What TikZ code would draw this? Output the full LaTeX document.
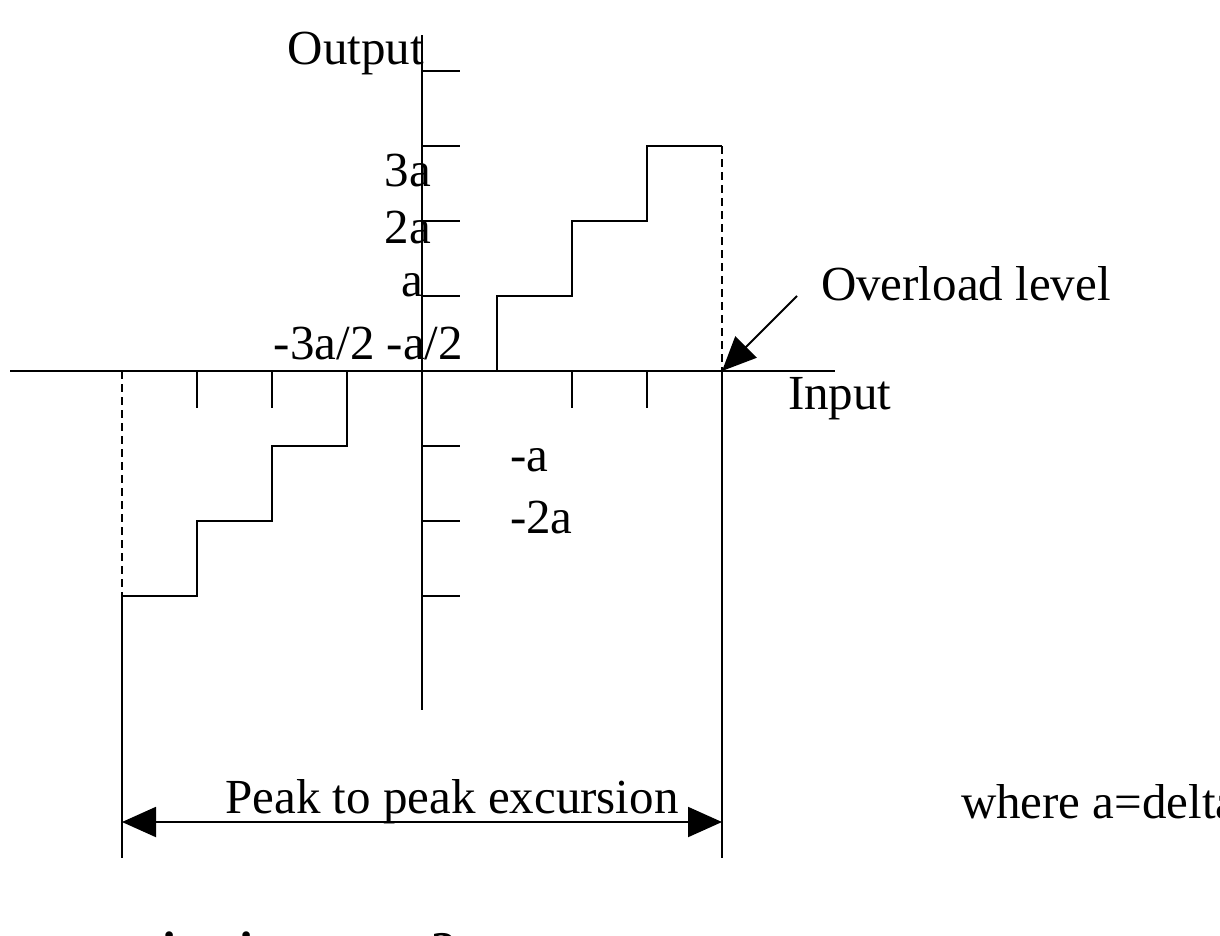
\documentclass[tikz,border=0pt]{standalone}
\usepackage{fontspec}
\setmainfont{Liberation Serif}
\usetikzlibrary{arrows.meta}
\begin{document}
\begin{tikzpicture}[x=1pt,y=-1pt,line width=2pt,
  lbl/.style={inner sep=0pt,font=\fontsize{49}{58}\selectfont},
  dsh/.style={dash pattern=on 8pt off 5pt},
  big/.style={-{Triangle[length=34pt,width=30pt]}}]
\clip (0,0) rectangle (1220,935);
\useasboundingbox (0,0) rectangle (1220,935);
% axes
\coordinate (xl) at (10,371); \coordinate (xr) at (835,371);
\coordinate (yt) at (422,35); \coordinate (yb) at (422,710);
\draw (xl) -- (xr); \draw (yt) -- (yb);
\foreach \y in {71,146,221,296,446,521,596} \draw (422,\y) -- (460,\y);
\foreach \x in {197,272,572,647} \draw (\x,371) -- (\x,408);
% staircase
\draw (497,371) -- (497,296) -- (572,296) -- (572,221) -- (647,221) -- (647,146) -- (722,146);
\draw[dsh] (722,146) -- (722,371);
\draw (722,371) -- (722,858);
\draw (347,371) -- (347,446) -- (272,446) -- (272,521) -- (197,521) -- (197,596) -- (122,596);
\draw[dsh] (122,371) -- (122,596);
\draw (122,596) -- (122,858);
\coordinate (pl) at (122,822); \coordinate (pr) at (722,822);
\draw[{Triangle[length=34pt,width=30pt]}-{Triangle[length=34pt,width=30pt]}] (pl) -- (pr);
\coordinate (ov) at (797,296); \coordinate (ovt) at (722,371);
\draw[big] (ov) -- (ovt);
% labels
\node[lbl,anchor=east] (out) at (425,53) {Output};
\node[lbl,anchor=east] (l3) at (432,171) {3a};
\node[lbl,anchor=east] (l2) at (432,228) {2a};
\node[lbl,anchor=east] (l1) at (424,285) {a};
\node[lbl,anchor=east] (lm) at (464,344) {-3a/2 -a/2};
\node[lbl,anchor=west] (n1) at (509,460) {-a};
\node[lbl,anchor=west] (n2) at (509,518) {-2a};
\node[lbl,anchor=west] (ol) at (820,284) {Overload level};
\node[lbl,anchor=west] (in) at (787,399) {Input};
\node[lbl] (pk) at (452,802) {Peak to peak excursion};
\node[lbl,anchor=west] (wh) at (960,802) {where a=delta};
\node[lbl,anchor=base west,font=\fontsize{50}{58}\selectfont\bfseries] (q) at (36,966) {quantization error?};
\end{tikzpicture}
\end{document}
